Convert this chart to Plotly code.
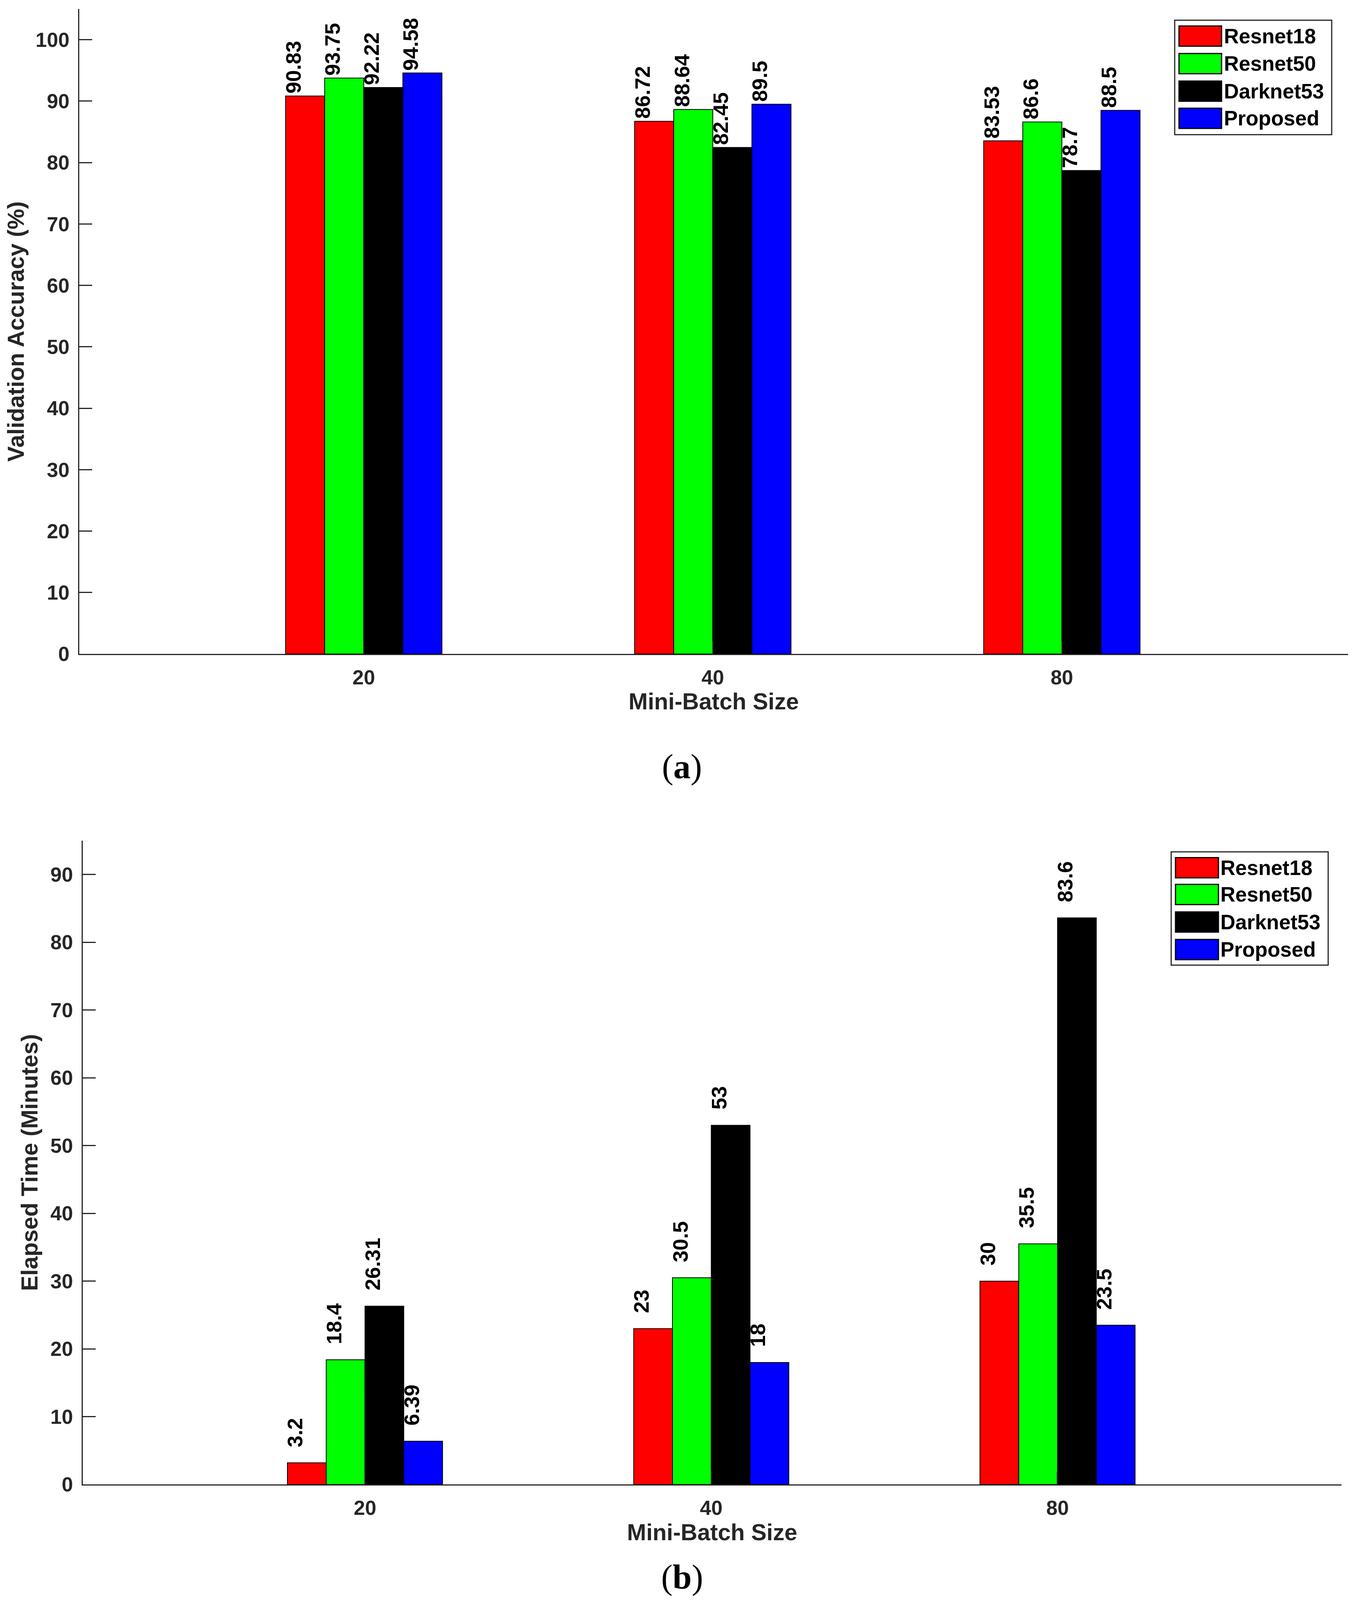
import plotly.graph_objects as go

# ---------------- data ----------------
batch_sizes = ["20", "40", "80"]
models = ["Resnet18", "Resnet50", "Darknet53", "Proposed"]
colors = ["#FF0000", "#00FF00", "#000000", "#0000FF"]

acc_resnet18 = [90.83, 86.72, 83.53]
acc_resnet50 = [93.75, 88.64, 86.6]
acc_darknet53 = [92.22, 82.45, 78.7]
acc_proposed = [94.58, 89.5, 88.5]

time_resnet18 = [3.2, 23, 30]
time_resnet50 = [18.4, 30.5, 35.5]
time_darknet53 = [26.31, 53, 83.6]
time_proposed = [6.39, 18, 23.5]

acc_ticks = list(range(0, 101, 10))
time_ticks = list(range(0, 91, 10))

# ---------------- geometry ----------------
PAGE_W, PAGE_H = 3462, 4164
PAGE_OFF = 8  # default body margin of the html page
W, H = PAGE_W - 2 * PAGE_OFF, PAGE_H - 2 * PAGE_OFF
BARGAP = 0.552
FONT = "Liberation Sans"
AX = "#262626"


def px(x):
    return (x - PAGE_OFF) / W


def py(y):
    return 1 - (y - PAGE_OFF) / H


fig = go.Figure()

acc_series = [acc_resnet18, acc_resnet50, acc_darknet53, acc_proposed]
time_series = [time_resnet18, time_resnet50, time_darknet53, time_proposed]

for name, col, vals in zip(models, colors, acc_series):
    fig.add_trace(go.Bar(x=batch_sizes, y=vals, name=name, xaxis="x", yaxis="y",
                         marker=dict(color=col, line=dict(color="#000000", width=2)),
                         showlegend=False))
for name, col, vals in zip(models, colors, time_series):
    fig.add_trace(go.Bar(x=batch_sizes, y=vals, name=name, xaxis="x2", yaxis="y2",
                         marker=dict(color=col, line=dict(color="#000000", width=2)),
                         showlegend=False))

annotations = []
bar_w = (1 - BARGAP) / len(models)


def add_labels(series, xref, yref, yshift):
    for j, vals in enumerate(series):
        for i, v in enumerate(vals):
            annotations.append(dict(
                x=i + (j - (len(models) - 1) / 2) * bar_w, y=v, xref=xref, yref=yref,
                text=f"{v:g}", textangle=-90, showarrow=False,
                xanchor="center", yanchor="bottom", xshift=-30, yshift=yshift,
                font=dict(family=FONT, size=54, color="#000000", weight="bold"),
            ))


add_labels(acc_series, "x", "y", 4)
add_labels(time_series, "x2", "y2", 38)

# manual legends (large swatches as in the reference)
shapes = []


def add_legend(bx0, by0, bx1, by1, sw_x0, sw_x1, row_centers, text_x):
    shapes.append(dict(type="rect", xref="paper", yref="paper",
                       x0=px(bx0), x1=px(bx1), y0=py(by1), y1=py(by0),
                       line=dict(color=AX, width=3), fillcolor="#FFFFFF", layer="above"))
    for name, col, yc in zip(models, colors, row_centers):
        shapes.append(dict(type="rect", xref="paper", yref="paper",
                           x0=px(sw_x0), x1=px(sw_x1), y0=py(yc + 26), y1=py(yc - 26),
                           line=dict(color="#000000", width=3), fillcolor=col, layer="above"))
        annotations.append(dict(x=px(text_x), y=py(yc), xref="paper", yref="paper",
                                text=name, showarrow=False, xanchor="left", yanchor="middle",
                                font=dict(family=FONT, size=53, color="#000000", weight="bold")))


add_legend(3008, 52, 3410, 347, 3019, 3128, [93, 164, 235, 305], 3132)
add_legend(2999, 2196, 3401, 2488, 3010, 3120, [2237, 2306, 2377, 2448], 3123)

# panel captions
annotations.append(dict(x=px(1747), y=py(1976), xref="paper", yref="paper",
                        text="(<b>a</b>)", showarrow=False, xanchor="center", yanchor="middle",
                        font=dict(family="Liberation Serif", size=88, color="#000000")))
annotations.append(dict(x=px(1747), y=py(4066), xref="paper", yref="paper",
                        text="(<b>b</b>)", showarrow=False, xanchor="center", yanchor="middle",
                        font=dict(family="Liberation Serif", size=88, color="#000000")))

tickfont = dict(family=FONT, size=52, color=AX, weight="bold")
titlefont = dict(family=FONT, size=59, color=AX, weight="bold")

common_x = dict(type="category", range=[-0.815, 2.82], showline=True, linecolor=AX, linewidth=3,
                ticks="inside", ticklen=33, tickwidth=2.5, tickcolor=AX, tickfont=tickfont,
                showgrid=False, zeroline=False, mirror=False, ticklabelstandoff=12)
common_y = dict(showline=True, linecolor=AX, linewidth=2.5, ticks="inside", ticklen=33,
                tickwidth=2.5, tickcolor=AX, tickfont=tickfont, showgrid=False, zeroline=False,
                mirror=False, ticklabelstandoff=12)

fig.update_layout(
    width=W, height=H,
    margin=dict(l=0, r=0, t=0, b=0),
    paper_bgcolor="#FFFFFF", plot_bgcolor="#FFFFFF",
    barmode="group", bargap=BARGAP, bargroupgap=0,
    showlegend=False,
    xaxis=dict(common_x, domain=[px(203), px(3452)], anchor="y",
               title=dict(text="Mini-Batch Size", font=titlefont, standoff=14)),
    yaxis=dict(common_y, domain=[py(1686), py(23)], anchor="x", range=[0, 105],
               tickvals=acc_ticks,
               title=dict(text="Validation Accuracy (%)", font=titlefont, standoff=14)),
    xaxis2=dict(common_x, domain=[px(212), px(3435)], anchor="y2",
                title=dict(text="Mini-Batch Size", font=titlefont, standoff=14)),
    yaxis2=dict(common_y, domain=[py(3827), py(2167)], anchor="x2", range=[0, 95],
                tickvals=time_ticks,
                title=dict(text="Elapsed Time (Minutes)", font=titlefont, standoff=14)),
    annotations=annotations,
    shapes=shapes,
)

fig.write_html("out.html")
